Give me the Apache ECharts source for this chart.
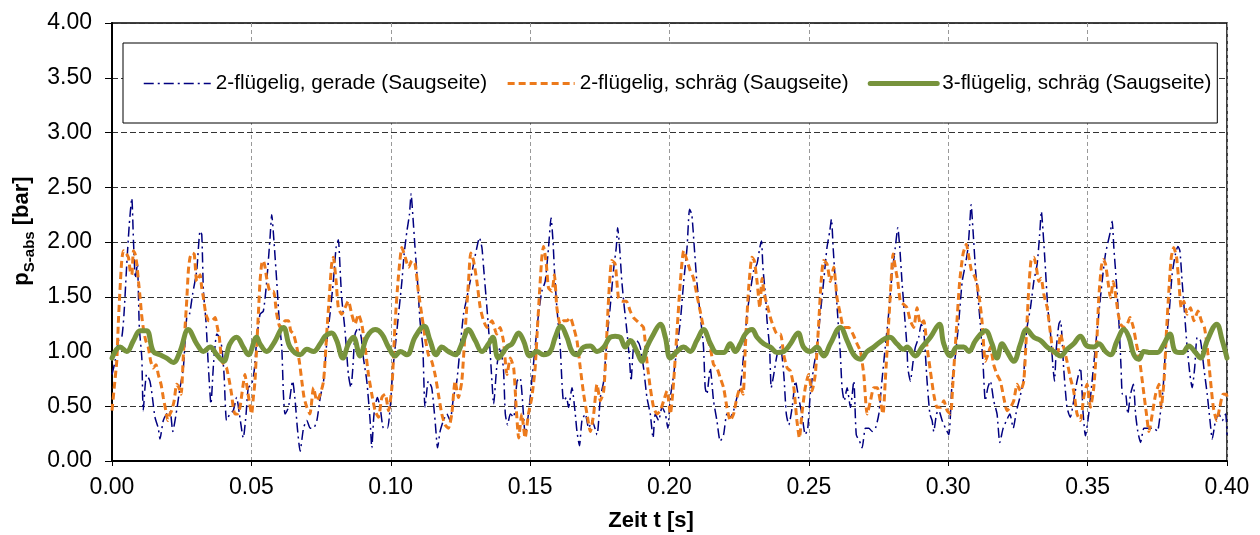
<!DOCTYPE html>
<html lang="de">
<head>
<meta charset="utf-8">
<title>Saugseitiger Absolutdruck</title>
<script src="https://cdn.jsdelivr.net/npm/echarts@6/dist/echarts.min.js"></script>
<style>
html, body { margin: 0; padding: 0; background: #fff; }
#chart { width: 1260px; height: 535px; }
</style>
</head>
<body>
<div id="chart"></div>
<script>
// Series names as shown in the legend
const seriesNames = [
  '2-flügelig, gerade (Saugseite)',
  '2-flügelig, schräg (Saugseite)',
  '3-flügelig, schräg (Saugseite)'
];

// Axis tick labels
const xTickLabels = ['0.00', '0.05', '0.10', '0.15', '0.20', '0.25', '0.30', '0.35', '0.40'];
const yTickLabels = ['0.00', '0.50', '1.00', '1.50', '2.00', '2.50', '3.00', '3.50', '4.00'];

// [Zeit t in s, p_S-abs in bar] – 2-flügelig, gerade
const gerade2 = [
  [0,0.79],[0.0011,0.91],[0.0023,1.10],[0.0035,1.13],[0.0043,1.34],[0.0053,1.80],[0.0062,2.16],[0.0071,2.40],[0.0077,2.01],[0.0084,1.67],[0.0091,1.80],[0.0098,1.22],[0.0107,0.94],[0.0112,0.46],[0.0124,0.79],[0.0136,0.73],[0.0145,0.58],[0.0154,0.40],[0.0166,0.30],[0.0172,0.20],[0.0184,0.37],[0.0196,0.43],[0.0208,0.46],[0.0218,0.27],[0.0230,0.43],[0.0244,0.67],[0.0256,0.85],[0.0268,1.31],[0.0278,1.34],[0.0289,1.52],[0.0304,1.74],[0.0316,2.10],[0.0322,2.07],[0.0328,1.55],[0.0337,1.28],[0.0346,0.85],[0.0355,0.52],[0.0364,0.88],[0.0376,1.16],[0.0385,1.13],[0.0394,1.04],[0.0402,0.79],[0.0411,0.37],[0.0423,0.43],[0.0435,0.46],[0.0447,0.58],[0.0457,0.43],[0.0471,0.21],[0.0481,0.43],[0.0489,0.67],[0.0501,0.70],[0.0510,0.82],[0.0519,1.10],[0.0531,1.34],[0.0543,1.37],[0.0555,1.64],[0.0567,2.04],[0.0573,2.25],[0.0581,2.01],[0.0591,1.64],[0.0600,1.28],[0.0609,1.04],[0.0615,0.61],[0.0621,0.43],[0.0633,0.49],[0.0648,0.73],[0.0657,0.55],[0.0665,0.30],[0.0675,0.09],[0.0687,0.30],[0.0699,0.37],
  [0.0711,0.30],[0.0723,0.30],[0.0735,0.37],[0.0747,0.58],[0.0759,0.73],[0.0771,1.10],[0.0782,1.34],[0.0794,1.64],[0.0804,1.95],[0.0812,2.02],[0.0818,1.77],[0.0824,1.49],[0.0836,1.19],[0.0848,0.79],[0.0857,0.67],[0.0864,0.85],[0.0872,1.16],[0.0884,1.22],[0.0894,1.13],[0.0902,0.94],[0.0914,0.73],[0.0926,0.37],[0.0932,0.12],[0.0940,0.43],[0.0952,0.58],[0.0962,0.49],[0.0974,0.30],[0.0988,0.30],[0.0998,0.49],[0.1007,0.82],[0.1016,1.04],[0.1028,1.34],[0.1040,1.64],[0.1048,1.89],[0.1058,2.10],[0.1067,2.25],[0.1073,2.44],[0.1079,2.25],[0.1087,1.95],[0.1096,1.64],[0.1105,1.28],[0.1115,1.04],[0.1123,0.49],[0.1135,0.73],[0.1147,0.67],[0.1159,0.37],[0.1168,0.12],[0.1177,0.27],[0.1189,0.37],[0.1201,0.43],[0.1213,0.37],[0.1225,0.58],[0.1237,0.73],[0.1249,1.04],[0.1261,1.34],[0.1273,1.49],[0.1285,1.64],[0.1297,1.80],[0.1309,1.95],[0.1318,2.04],[0.1327,1.95],[0.1333,1.77],[0.1345,1.40],[0.1354,1.10],[0.1363,0.73],[0.1369,0.52],[0.1380,0.85],[0.1392,1.04],[0.1404,0.85],
  [0.1411,0.43],[0.1419,0.33],[0.1429,0.43],[0.1441,0.40],[0.1453,0.73],[0.1464,0.76],[0.1476,0.43],[0.1482,0.24],[0.1494,0.43],[0.1506,0.73],[0.1518,1.04],[0.1530,1.34],[0.1542,1.55],[0.1554,1.64],[0.1566,1.95],[0.1575,2.22],[0.1582,2.01],[0.1588,1.70],[0.1596,1.40],[0.1608,1.04],[0.1614,0.73],[0.1620,0.55],[0.1630,0.58],[0.1638,0.49],[0.1650,0.67],[0.1662,0.43],[0.1668,0.27],[0.1677,0.14],[0.1686,0.37],[0.1698,0.43],[0.1710,0.30],[0.1722,0.37],[0.1740,0.24],[0.1752,0.58],[0.1764,0.73],[0.1775,1.10],[0.1787,1.40],[0.1799,1.74],[0.1809,1.95],[0.1814,2.13],[0.1821,1.95],[0.1829,1.64],[0.1838,1.40],[0.1847,1.19],[0.1857,0.91],[0.1862,0.73],[0.1871,1.04],[0.1883,1.10],[0.1895,1.04],[0.1907,0.85],[0.1919,0.58],[0.1931,0.43],[0.1941,0.21],[0.1949,0.43],[0.1961,0.37],[0.1973,0.49],[0.1985,0.43],[0.1994,0.30],[0.2003,0.58],[0.2015,0.79],[0.2027,1.04],[0.2039,1.28],[0.2051,1.64],[0.2063,1.95],[0.2072,2.30],[0.2080,2.25],[0.2089,1.95],[0.2098,1.64],[0.2110,1.34],[0.2122,1.04],[0.2128,0.67],[0.2134,0.61],[0.2146,0.85],
  [0.2158,0.55],[0.2170,0.37],[0.2182,0.18],[0.2194,0.24],[0.2206,0.43],[0.2218,0.40],[0.2230,0.46],[0.2242,0.58],[0.2254,0.67],[0.2266,0.97],[0.2278,1.34],[0.2290,1.55],[0.2302,1.74],[0.2314,1.80],[0.2324,1.95],[0.2330,2.01],[0.2335,1.77],[0.2344,1.52],[0.2350,1.28],[0.2359,1.04],[0.2365,0.67],[0.2374,0.79],[0.2386,0.97],[0.2398,1.04],[0.2410,0.79],[0.2419,0.43],[0.2428,0.33],[0.2440,0.49],[0.2452,0.73],[0.2463,0.58],[0.2475,0.43],[0.2487,0.24],[0.2496,0.30],[0.2505,0.61],[0.2517,0.85],[0.2529,1.04],[0.2541,1.34],[0.2553,1.64],[0.2565,1.95],[0.2575,2.10],[0.2581,2.21],[0.2587,1.95],[0.2595,1.64],[0.2603,1.34],[0.2613,0.97],[0.2619,0.67],[0.2627,0.55],[0.2637,0.67],[0.2649,0.49],[0.2661,0.73],[0.2670,0.24],[0.2682,0.18],[0.2691,0.12],[0.2703,0.30],[0.2715,0.30],[0.2727,0.27],[0.2739,0.30],[0.2751,0.43],[0.2762,0.73],[0.2774,1.04],[0.2786,1.34],[0.2798,1.70],[0.2810,1.95],[0.2819,2.13],[0.2826,1.95],[0.2834,1.64],[0.2843,1.34],[0.2852,1.04],
  [0.2855,0.85],[0.2864,0.73],[0.2874,0.91],[0.2882,1.04],[0.2894,1.13],[0.2903,1.25],[0.2912,1.19],[0.2924,0.73],[0.2934,0.43],[0.2942,0.37],[0.2948,0.27],[0.2958,0.43],[0.2966,0.46],[0.2978,0.37],[0.2990,0.30],[0.3002,0.24],[0.3014,0.73],[0.3026,0.97],[0.3038,1.28],[0.3050,1.64],[0.3062,1.80],[0.3071,1.95],[0.3077,2.16],[0.3082,2.34],[0.3089,2.10],[0.3098,1.74],[0.3106,1.52],[0.3115,1.25],[0.3125,0.88],[0.3133,0.55],[0.3142,0.67],[0.3151,0.73],[0.3163,0.55],[0.3175,0.43],[0.3185,0.17],[0.3197,0.30],[0.3209,0.37],[0.3221,0.43],[0.3233,0.30],[0.3245,0.46],[0.3257,0.58],[0.3269,0.73],[0.3281,1.19],[0.3295,1.40],[0.3307,1.64],[0.3319,1.80],[0.3328,2.07],[0.3334,2.28],[0.3340,2.10],[0.3349,1.74],[0.3357,1.40],[0.3367,1.16],[0.3376,0.85],[0.3381,0.73],[0.3388,1.04],[0.3397,1.25],[0.3403,1.28],[0.3414,0.85],[0.3426,0.49],[0.3438,0.40],[0.3450,0.55],[0.3462,0.73],[0.3474,0.85],[0.3484,0.43],[0.3492,0.23],[0.3504,0.43],[0.3516,0.73],[0.3528,1.04],[0.3540,1.34],[0.3552,1.64],[0.3564,1.89],
  [0.3582,2.10],[0.3588,2.19],[0.3594,1.95],[0.3603,1.64],[0.3612,1.28],[0.3620,0.85],[0.3625,0.61],[0.3636,0.61],[0.3644,0.43],[0.3654,0.61],[0.3664,0.70],[0.3672,0.43],[0.3680,0.27],[0.3690,0.17],[0.3702,0.30],[0.3714,0.30],[0.3726,0.30],[0.3738,0.30],[0.3750,0.27],[0.3762,0.46],[0.3771,0.67],[0.3780,1.04],[0.3792,1.34],[0.3803,1.70],[0.3815,1.89],[0.3824,1.96],[0.3831,1.92],[0.3839,1.64],[0.3848,1.34],[0.3857,1.04],[0.3867,0.79],[0.3875,0.67],[0.3884,0.85],[0.3893,1.13],[0.3905,1.10],[0.3917,0.85],[0.3929,0.61],[0.3939,0.37],[0.3947,0.20],[0.3959,0.37],[0.3971,0.43],[0.3983,0.37],[0.3995,0.43],[0.4000,0.24]
];

// [Zeit t in s, p_S-abs in bar] – 2-flügelig, schräg
const schraeg2 = [
  [0,0.46],[0.0008,0.67],[0.0017,0.91],[0.0023,1.28],[0.0029,1.58],[0.0035,1.83],[0.0041,1.92],[0.0049,1.90],[0.0059,1.86],[0.0065,1.74],[0.0071,1.70],[0.0077,1.92],[0.0083,1.89],[0.0089,1.80],[0.0095,1.64],[0.0101,1.49],[0.0106,1.34],[0.0112,1.22],[0.0121,1.10],[0.0130,1.04],[0.0139,0.91],[0.0148,0.85],[0.0158,0.88],[0.0166,0.79],[0.0176,0.70],[0.0184,0.58],[0.0193,0.46],[0.0200,0.37],[0.0208,0.43],[0.0214,0.46],[0.0223,0.55],[0.0232,0.70],[0.0240,0.67],[0.0248,0.61],[0.0256,0.97],[0.0262,1.22],[0.0268,1.46],[0.0274,1.74],[0.0280,1.86],[0.0288,1.90],[0.0295,1.89],[0.0304,1.64],[0.0310,1.67],[0.0316,1.70],[0.0322,1.58],[0.0328,1.49],[0.0337,1.34],[0.0348,1.28],[0.0358,1.28],[0.0370,1.31],[0.0378,1.22],[0.0385,1.13],[0.0394,0.91],[0.0403,0.88],[0.0411,0.85],[0.0421,0.73],[0.0429,0.61],[0.0435,0.49],[0.0441,0.43],[0.0450,0.43],[0.0459,0.49],[0.0469,0.67],[0.0477,0.79],[0.0483,0.70],[0.0492,0.55],[0.0501,0.43],[0.0507,0.58],[0.0513,0.73],[0.0519,1.04],[0.0525,1.34],[0.0531,1.64],[0.0537,1.80],[0.0543,1.83],[0.0549,1.77],[0.0555,1.67],[0.0567,1.55],[0.0579,1.55],[0.0591,1.34],[0.0603,1.22],[0.0612,1.25],[0.0621,1.28],[0.0633,1.28],[0.0641,1.19],[0.0651,1.16],[0.0663,1.04],[0.0672,0.91],[0.0681,0.73],[0.0689,0.58],[0.0699,0.49],[0.0710,0.43],
  [0.0723,0.67],[0.0735,0.55],[0.0747,0.61],[0.0759,0.73],[0.0771,1.19],[0.0780,1.52],[0.0788,1.80],[0.0794,1.86],[0.0804,1.64],[0.0812,1.40],[0.0824,1.34],[0.0836,1.40],[0.0848,1.46],[0.0860,1.34],[0.0872,1.25],[0.0884,1.34],[0.0896,1.25],[0.0908,1.04],[0.0920,0.79],[0.0932,0.61],[0.0944,0.46],[0.0956,0.40],[0.0968,0.58],[0.0980,0.61],[0.0992,0.46],[0.1004,0.67],[0.1016,1.28],[0.1028,1.70],[0.1040,1.95],[0.1052,1.86],[0.1064,1.77],[0.1076,1.83],[0.1087,1.80],[0.1099,1.55],[0.1111,1.34],[0.1123,1.13],[0.1135,0.97],[0.1147,0.91],[0.1159,0.79],[0.1171,0.61],[0.1183,0.43],[0.1195,0.33],[0.1207,0.30],[0.1219,0.43],[0.1231,0.73],[0.1243,0.58],[0.1255,0.73],[0.1267,1.19],[0.1279,1.64],[0.1287,1.90],[0.1297,1.83],[0.1309,1.64],[0.1321,1.40],[0.1333,1.28],[0.1345,1.22],[0.1363,1.28],[0.1380,1.16],[0.1392,1.22],[0.1404,1.10],
  [0.1417,0.79],[0.1429,0.94],[0.1441,0.85],[0.1450,0.49],[0.1459,0.21],[0.1470,0.43],[0.1482,0.21],[0.1494,0.43],[0.1506,0.58],[0.1518,0.85],[0.1527,1.25],[0.1534,1.55],[0.1542,1.86],[0.1548,1.96],[0.1558,1.80],[0.1566,1.58],[0.1578,1.55],[0.1587,1.70],[0.1596,1.40],[0.1608,1.25],[0.1620,1.28],[0.1632,1.28],[0.1644,1.31],[0.1656,1.22],[0.1668,1.10],[0.1680,0.85],[0.1692,0.61],[0.1704,0.43],[0.1716,0.27],[0.1728,0.43],[0.1740,0.70],[0.1752,0.55],[0.1764,0.64],[0.1773,1.04],[0.1781,1.46],[0.1793,1.83],[0.1805,1.80],[0.1817,1.49],[0.1829,1.46],[0.1845,1.46],[0.1859,1.37],[0.1871,1.31],[0.1883,1.28],[0.1895,1.25],[0.1907,1.22],[0.1919,0.91],[0.1931,0.67],[0.1943,0.49],[0.1955,0.43],[0.1967,0.46],[0.1979,0.55],[0.1991,0.64],[0.2003,0.43],[0.2015,0.73],[0.2027,1.19],[0.2039,1.64],[0.2051,1.92],[0.2063,1.83],[0.2074,1.74],[0.2086,1.67],[0.2098,1.52],[0.2110,1.37],[0.2122,1.22],[0.2134,1.13],[0.2146,1.04],
  [0.2158,0.88],[0.2170,0.85],[0.2182,0.76],[0.2194,0.67],[0.2206,0.49],[0.2218,0.37],[0.2230,0.43],[0.2242,0.58],[0.2254,0.67],[0.2264,0.61],[0.2272,1.04],[0.2284,1.58],[0.2296,1.86],[0.2304,1.83],[0.2314,1.64],[0.2324,1.40],[0.2332,1.67],[0.2340,1.52],[0.2350,1.43],[0.2362,1.31],[0.2374,1.22],[0.2386,1.16],[0.2398,1.16],[0.2410,0.97],[0.2422,0.85],[0.2434,0.82],[0.2446,0.67],[0.2457,0.37],[0.2466,0.21],[0.2475,0.43],[0.2487,0.67],[0.2499,0.79],[0.2511,0.64],[0.2523,0.79],[0.2535,1.25],[0.2544,1.64],[0.2553,1.83],[0.2565,1.80],[0.2577,1.64],[0.2589,1.77],[0.2601,1.49],[0.2613,1.34],[0.2625,1.22],[0.2643,1.22],[0.2658,1.16],[0.2673,1.07],[0.2685,1.00],[0.2697,0.79],[0.2709,0.43],[0.2721,0.55],[0.2733,0.67],[0.2745,0.67],[0.2756,0.55],[0.2766,0.43],[0.2774,0.73],[0.2786,1.25],[0.2795,1.64],[0.2802,1.89],[0.2810,1.77],[0.2819,1.64],[0.2828,1.46],[0.2840,1.43],[0.2852,1.40],
  [0.2864,1.28],[0.2876,1.22],[0.2888,1.40],[0.2900,1.25],[0.2912,1.28],[0.2924,1.04],[0.2936,0.82],[0.2948,0.61],[0.2960,0.49],[0.2972,0.49],[0.2984,0.55],[0.2996,0.46],[0.3008,0.43],[0.3017,0.73],[0.3029,1.19],[0.3041,1.64],[0.3053,1.89],[0.3065,1.98],[0.3074,1.86],[0.3083,1.74],[0.3092,1.70],[0.3101,1.64],[0.3113,1.46],[0.3121,1.28],[0.3133,0.91],[0.3142,0.97],[0.3151,1.04],[0.3163,0.88],[0.3175,0.79],[0.3187,0.73],[0.3199,0.58],[0.3211,0.46],[0.3223,0.49],[0.3235,0.55],[0.3247,0.70],[0.3259,0.64],[0.3271,0.73],[0.3281,1.19],[0.3289,1.58],[0.3297,1.83],[0.3307,1.86],[0.3316,1.77],[0.3325,1.64],[0.3333,1.67],[0.3343,1.52],[0.3355,1.40],[0.3367,1.16],[0.3379,0.97],[0.3391,0.97],[0.3403,1.16],[0.3414,1.04],[0.3426,0.91],[0.3438,0.76],[0.3450,0.64],[0.3462,0.43],[0.3474,0.37],[0.3486,0.58],[0.3498,0.70],[0.3510,0.49],
  [0.3522,0.67],[0.3532,1.04],[0.3540,1.49],[0.3549,1.77],[0.3556,1.84],[0.3564,1.80],[0.3573,1.64],[0.3582,1.49],[0.3592,1.64],[0.3600,1.52],[0.3610,1.34],[0.3618,1.25],[0.3630,1.22],[0.3642,1.25],[0.3652,1.31],[0.3664,1.22],[0.3675,1.07],[0.3687,0.91],[0.3699,0.67],[0.3711,0.43],[0.3720,0.27],[0.3732,0.43],[0.3744,0.61],[0.3756,0.70],[0.3764,0.49],[0.3774,0.73],[0.3783,1.19],[0.3792,1.58],[0.3800,1.86],[0.3809,1.95],[0.3819,1.86],[0.3827,1.64],[0.3836,1.40],[0.3845,1.46],[0.3857,1.34],[0.3869,1.40],[0.3881,1.28],[0.3896,1.37],[0.3908,1.28],[0.3919,1.22],[0.3929,1.04],[0.3941,0.73],[0.3951,0.49],[0.3963,0.37],[0.3974,0.49],[0.3986,0.61],[0.3998,0.61],[0.4000,0.58]
];

// [Zeit t in s, p_S-abs in bar] – 3-flügelig, schräg
const schraeg3 = [
  [0,0.94],[0.0029,1.04],[0.0053,1.00],[0.0077,1.10],[0.0101,1.19],[0.0124,1.19],[0.0148,1.00],[0.0172,0.97],[0.0196,0.94],[0.0220,0.90],[0.0244,1.00],[0.0274,1.20],[0.0304,1.07],[0.0328,1.00],[0.0352,1.04],[0.0376,0.97],[0.0400,0.91],[0.0423,1.07],[0.0447,1.13],[0.0471,1.04],[0.0489,0.97],[0.0519,1.13],[0.0531,1.07],[0.0555,1.00],[0.0579,1.07],[0.0615,1.22],[0.0639,1.04],[0.0675,0.97],
  [0.0699,1.02],[0.0723,1.00],[0.0747,1.07],[0.0765,1.14],[0.0788,1.17],[0.0806,1.10],[0.0828,0.94],[0.0848,1.07],[0.0866,1.13],[0.0890,0.96],[0.0914,1.13],[0.0944,1.20],[0.0968,1.16],[0.0992,1.04],[0.1016,0.96],[0.1034,1.00],[0.1058,0.97],[0.1087,1.13],[0.1120,1.23],[0.1141,1.10],[0.1163,0.97],[0.1183,1.04],[0.1207,1.00],[0.1231,0.97],[0.1255,1.07],[0.1279,1.20],[0.1303,1.10],[0.1327,1.00],[0.1351,1.07],[0.1366,1.13],[0.1386,0.94],
  [0.1417,1.04],[0.1435,1.07],[0.1459,1.17],[0.1476,1.10],[0.1500,0.96],[0.1524,1.00],[0.1548,0.97],[0.1572,1.00],[0.1590,1.13],[0.1610,1.23],[0.1632,1.13],[0.1650,1.00],[0.1668,0.97],[0.1692,1.04],[0.1716,1.05],[0.1740,1.00],[0.1764,1.04],[0.1787,1.13],[0.1805,1.14],[0.1823,1.13],[0.1841,1.04],[0.1859,1.10],[0.1883,1.00],[0.1901,0.91],[0.1919,1.04],[0.1943,1.16],[0.1967,1.25],[0.1985,1.13],[0.2003,0.94],[0.2027,1.00],[0.2051,1.04],[0.2074,1.00],[0.2098,1.10],[0.2122,1.20],
  [0.2147,1.07],[0.2170,0.99],[0.2194,0.99],[0.2218,1.07],[0.2236,1.00],[0.2254,1.07],[0.2272,1.16],[0.2296,1.20],[0.2314,1.13],[0.2338,1.07],[0.2362,1.04],[0.2386,0.99],[0.2410,1.00],[0.2434,1.07],[0.2461,1.17],[0.2481,1.04],[0.2505,1.00],[0.2529,1.04],[0.2553,0.96],[0.2577,1.07],[0.2613,1.22],[0.2637,1.10],[0.2661,0.97],[0.2685,0.93],[0.2709,1.00],[0.2733,1.04],[0.2762,1.10],[0.2790,1.13],[0.2816,1.07],[0.2840,1.02],
  [0.2852,1.04],[0.2882,0.96],[0.2906,1.04],[0.2936,1.13],[0.2968,1.25],[0.2984,1.07],[0.3008,0.96],[0.3032,1.04],[0.3056,1.04],[0.3074,1.00],[0.3098,1.10],[0.3133,1.19],[0.3157,1.07],[0.3175,0.94],[0.3193,1.07],[0.3211,1.00],[0.3235,0.91],[0.3259,1.07],[0.3281,1.20],[0.3307,1.13],[0.3331,1.10],[0.3355,1.04],[0.3379,1.00],[0.3403,0.96],[0.3426,1.02],[0.3450,1.07],[0.3474,1.14],[0.3498,1.05],[0.3522,1.04],
  [0.3540,1.07],[0.3564,1.00],[0.3582,0.97],[0.3606,1.10],[0.3630,1.20],[0.3648,1.13],[0.3666,0.97],[0.3684,0.93],[0.3702,1.00],[0.3726,0.99],[0.3750,0.99],[0.3774,1.07],[0.3795,1.16],[0.3815,1.00],[0.3839,0.99],[0.3863,1.05],[0.3887,0.99],[0.3905,0.94],[0.3929,1.10],[0.3963,1.25],[0.3983,1.10],[0.4000,0.94]
];

const FONT = '"Liberation Sans", Arial, sans-serif';

// Line appearance per series (shared by plot and legend)
const lineStyles = [
  { color: '#000080', width: 1.5, type: [10, 4, 2, 4] },
  { color: '#EC7A1C', width: 3, type: [7, 4] },
  { color: '#77933C', width: 5, type: 'solid', cap: 'round', join: 'round' }
];

const chart = echarts.init(document.getElementById('chart'), null, { renderer: 'canvas' });

chart.setOption({
  animation: false,
  backgroundColor: '#ffffff',
  textStyle: { fontFamily: FONT },
  grid: {
    left: 112, right: 33, top: 23, bottom: 74,
    show: true, borderColor: '#000', borderWidth: 1.5, backgroundColor: 'transparent'
  },
  legend: {
    data: seriesNames.map((name, i) => ({
      name,
      lineStyle: Object.assign({}, lineStyles[i]),
      itemStyle: { color: 'transparent', borderColor: 'transparent', borderWidth: 0, opacity: 0 }
    })),
    left: 123, top: 43,
    orient: 'horizontal',
    padding: [30, 6, 29, 20],
    itemGap: 19,
    itemWidth: 67,
    itemHeight: 14,
    backgroundColor: '#ffffff',
    borderColor: '#000',
    borderWidth: 1,
    borderRadius: 0,
    itemStyle: { color: 'transparent', borderColor: 'transparent', borderWidth: 0, opacity: 0 },
    textStyle: { fontFamily: FONT, fontSize: 20.7, color: '#000' }
  },
  xAxis: {
    type: 'value', min: 0, max: 0.4, interval: 0.05,
    axisLine: { onZero: false, lineStyle: { color: '#000', width: 2 } },
    axisTick: { show: true, length: 5, lineStyle: { color: '#000', width: 1 } },
    axisLabel: {
      fontFamily: FONT, fontSize: 23, color: '#000', margin: 15,
      formatter: v => xTickLabels[Math.round(v / 0.05)]
    },
    splitLine: { show: true, lineStyle: { color: '#999', width: 1, type: [4, 3] } }
  },
  yAxis: {
    type: 'value', min: 0, max: 4, interval: 0.5,
    axisLine: { show: true, onZero: false, lineStyle: { color: '#000', width: 2 } },
    axisTick: { show: true, length: 7, lineStyle: { color: '#000', width: 1 } },
    axisLabel: {
      fontFamily: FONT, fontSize: 23, color: '#000', margin: 20,
      formatter: v => yTickLabels[Math.round(v / 0.5)]
    },
    splitLine: { show: true, lineStyle: { color: '#333', width: 1, type: [6, 3] } }
  },
  series: [
    {
      name: seriesNames[0], type: 'line', data: gerade2,
      symbol: 'none', smooth: 0.2, z: 2,
      itemStyle: { color: lineStyles[0].color },
      lineStyle: lineStyles[0]
    },
    {
      name: seriesNames[1], type: 'line', data: schraeg2,
      symbol: 'none', smooth: 0.2, z: 3,
      itemStyle: { color: lineStyles[1].color },
      lineStyle: lineStyles[1]
    },
    {
      name: seriesNames[2], type: 'line', data: schraeg3,
      symbol: 'none', smooth: 0.4, z: 4,
      itemStyle: { color: lineStyles[2].color },
      lineStyle: lineStyles[2]
    }
  ],
  graphic: [
    {
      type: 'text', x: 22, y: 231, rotation: Math.PI / 2,
      style: {
        text: '{p|p}{s|S-abs}{p| [bar]}',
        align: 'center', verticalAlign: 'middle', fill: '#000',
        rich: {
          p: { fontFamily: FONT, fontSize: 22, fontWeight: 'bold', lineHeight: 30, verticalAlign: 'middle', fill: '#000' },
          s: { fontFamily: FONT, fontSize: 15, fontWeight: 'bold', lineHeight: 14, verticalAlign: 'bottom', fill: '#000' }
        }
      }
    },
    {
      type: 'text', x: 651, y: 521,
      style: {
        text: 'Zeit t [s]', fill: '#000',
        font: 'bold 22px "Liberation Sans", Arial, sans-serif',
        align: 'center', verticalAlign: 'middle'
      }
    }
  ]
});
</script>
</body>
</html>
